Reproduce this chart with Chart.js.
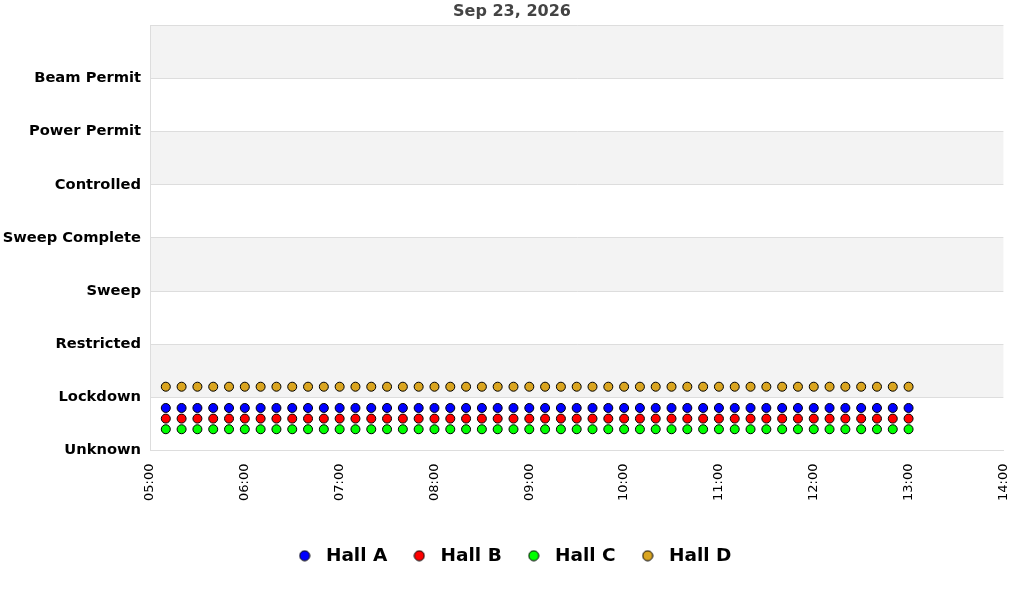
<!DOCTYPE html>
<html>
<head>
<meta charset="utf-8">
<script src="https://cdn.jsdelivr.net/npm/chart.js@4"></script>
<style>
  html, body { margin: 0; padding: 0; background: #fff; }
  #wrap { width: 1024px; height: 600px; }
</style>
</head>
<body>
<div id="wrap"><canvas id="hallChart"></canvas></div>
<script>
// state names on the y axis, from 0 upward
const stateLabels = ["Unknown", "Lockdown", "Restricted", "Sweep", "Sweep Complete",
  "Controlled", "Power Permit", "Beam Permit"];

const sampleTimes = [
  "05:10", "05:20", "05:30", "05:40", "05:50", "06:00",
  "06:10", "06:20", "06:30", "06:40", "06:50", "07:00",
  "07:10", "07:20", "07:30", "07:40", "07:50", "08:00",
  "08:10", "08:20", "08:30", "08:40", "08:50", "09:00",
  "09:10", "09:20", "09:30", "09:40", "09:50", "10:00",
  "10:10", "10:20", "10:30", "10:40", "10:50", "11:00",
  "11:10", "11:20", "11:30", "11:40", "11:50", "12:00",
  "12:10", "12:20", "12:30", "12:40", "12:50", "13:00"
];

// each hall sits in Lockdown, drawn slightly offset so they don't overlap
const hallA = [
  0.8, 0.8, 0.8, 0.8, 0.8, 0.8, 0.8, 0.8, 0.8, 0.8, 0.8, 0.8,
  0.8, 0.8, 0.8, 0.8, 0.8, 0.8, 0.8, 0.8, 0.8, 0.8, 0.8, 0.8,
  0.8, 0.8, 0.8, 0.8, 0.8, 0.8, 0.8, 0.8, 0.8, 0.8, 0.8, 0.8,
  0.8, 0.8, 0.8, 0.8, 0.8, 0.8, 0.8, 0.8, 0.8, 0.8, 0.8, 0.8
];
const hallB = [
  0.6, 0.6, 0.6, 0.6, 0.6, 0.6, 0.6, 0.6, 0.6, 0.6, 0.6, 0.6,
  0.6, 0.6, 0.6, 0.6, 0.6, 0.6, 0.6, 0.6, 0.6, 0.6, 0.6, 0.6,
  0.6, 0.6, 0.6, 0.6, 0.6, 0.6, 0.6, 0.6, 0.6, 0.6, 0.6, 0.6,
  0.6, 0.6, 0.6, 0.6, 0.6, 0.6, 0.6, 0.6, 0.6, 0.6, 0.6, 0.6
];
const hallC = [
  0.4, 0.4, 0.4, 0.4, 0.4, 0.4, 0.4, 0.4, 0.4, 0.4, 0.4, 0.4,
  0.4, 0.4, 0.4, 0.4, 0.4, 0.4, 0.4, 0.4, 0.4, 0.4, 0.4, 0.4,
  0.4, 0.4, 0.4, 0.4, 0.4, 0.4, 0.4, 0.4, 0.4, 0.4, 0.4, 0.4,
  0.4, 0.4, 0.4, 0.4, 0.4, 0.4, 0.4, 0.4, 0.4, 0.4, 0.4, 0.4
];
const hallD = [
  1.2, 1.2, 1.2, 1.2, 1.2, 1.2, 1.2, 1.2, 1.2, 1.2, 1.2, 1.2,
  1.2, 1.2, 1.2, 1.2, 1.2, 1.2, 1.2, 1.2, 1.2, 1.2, 1.2, 1.2,
  1.2, 1.2, 1.2, 1.2, 1.2, 1.2, 1.2, 1.2, 1.2, 1.2, 1.2, 1.2,
  1.2, 1.2, 1.2, 1.2, 1.2, 1.2, 1.2, 1.2, 1.2, 1.2, 1.2, 1.2
];

function toMinutes(t) {
  const [h, m] = t.split(":").map(Number);
  return h * 60 + m;
}
function fmtMinutes(v) {
  const h = Math.floor(v / 60), m = v % 60;
  return String(h).padStart(2, "0") + ":" + String(m).padStart(2, "0");
}
function points(values) {
  return sampleTimes.map((t, i) => ({ x: toMinutes(t), y: values[i] }));
}

// small dot used as the legend marker
function legendDot(color) {
  const c = document.createElement("canvas");
  c.width = 12;
  c.height = 12;
  const g = c.getContext("2d");
  g.beginPath();
  g.arc(6, 6, 5, 0, Math.PI * 2);
  g.fillStyle = color;
  g.fill();
  g.lineWidth = 1;
  g.strokeStyle = "#000";
  g.stroke();
  return c;
}

// grey bands behind every other state row
const bandPlugin = {
  id: "bands",
  beforeDraw(chart) {
    const { ctx, chartArea, scales } = chart;
    const y = scales.y;
    ctx.save();
    ctx.fillStyle = "#f3f3f3";
    for (let v = 1; v < 8; v += 2) {
      const top = y.getPixelForValue(v + 1);
      const bot = y.getPixelForValue(v);
      ctx.fillRect(chartArea.left, top, chartArea.right - chartArea.left, bot - top);
    }
    ctx.restore();
  }
};

function hallSet(label, values, color) {
  return {
    label: label,
    data: points(values),
    backgroundColor: color,
    borderColor: "#000",
    borderWidth: 1,
    pointRadius: 4.5,
    pointHoverRadius: 5,
    showLine: false
  };
}

new Chart(document.getElementById("hallChart").getContext("2d"), {
  type: "scatter",
  data: {
    datasets: [
      hallSet("Hall A", hallA, "#0000ff"),
      hallSet("Hall B", hallB, "#ff0000"),
      hallSet("Hall C", hallC, "#00ff00"),
      hallSet("Hall D", hallD, "#daa520")
    ]
  },
  options: {
    responsive: true,
    maintainAspectRatio: false,
    animation: false,
    layout: { padding: { left: 0, right: 0, top: 0, bottom: 25 } },
    plugins: {
      title: {
        display: true,
        text: "Sep 23, 2026",
        color: "#444",
        font: { family: "DejaVu Sans", size: 16, weight: "bold" },
        padding: { top: 2, bottom: 4 }
      },
      legend: {
        position: "bottom",
        labels: {
          usePointStyle: true,
          pointStyleWidth: 24,
          boxHeight: 12,
          padding: 20,
          color: "#000",
          font: { family: "DejaVu Sans", size: 18.5, weight: "bold" },
          generateLabels(chart) {
            const items = Chart.defaults.plugins.legend.labels.generateLabels(chart);
            items.forEach((it) => {
              it.pointStyle = legendDot(chart.data.datasets[it.datasetIndex].backgroundColor);
            });
            return items;
          }
        }
      },
      tooltip: { enabled: false }
    },
    scales: {
      x: {
        type: "linear",
        min: 300,
        max: 840,
        border: { color: "#ddd" },
        grid: { display: false },
        afterFit: (scale) => { scale.height = 76; },
        ticks: {
          stepSize: 60,
          maxRotation: 90,
          minRotation: 90,
          padding: 5,
          color: "#000",
          font: { family: "DejaVu Sans", size: 13 },
          callback: (v) => fmtMinutes(v)
        }
      },
      y: {
        min: 0,
        max: 8,
        border: { color: "#ddd" },
        grid: { color: "#ddd", drawTicks: false },
        afterFit: (scale) => { scale.width = 150; },
        ticks: {
          stepSize: 1,
          padding: 9,
          color: "#000",
          font: { family: "DejaVu Sans", size: 14.7, weight: "bold" },
          callback: (v) => stateLabels[v] || ""
        }
      },
      // empty axis that just keeps a right margin
      yRight: {
        position: "right",
        display: true,
        grid: { display: false },
        border: { display: false },
        ticks: { display: false },
        afterFit: (scale) => { scale.width = 13; }
      }
    }
  },
  plugins: [bandPlugin]
});
</script>
</body>
</html>
